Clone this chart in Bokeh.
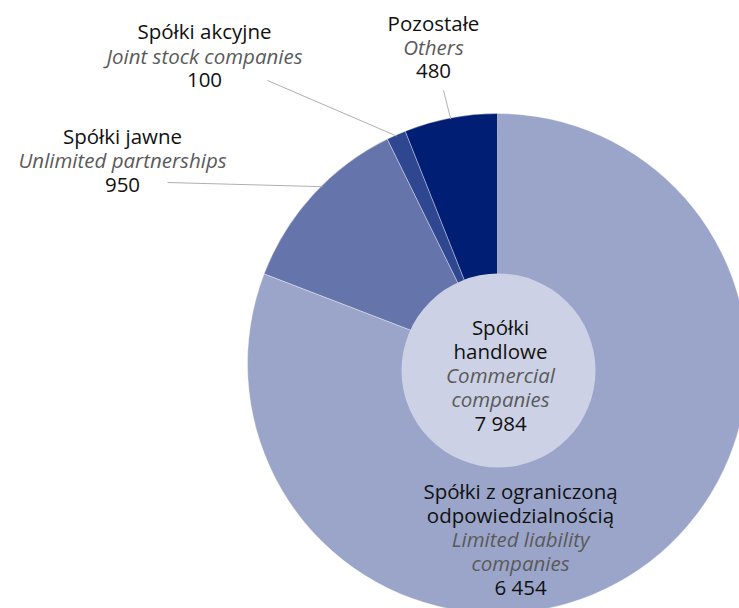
import numpy as np
from bokeh.plotting import figure
from bokeh.models import Range1d
from bokeh.core.properties import value
from bokeh.embed import file_html
from bokeh.resources import INLINE

# ---- data ----
categories_pl = ["Spółki z ograniczoną odpowiedzialnością", "Spółki jawne", "Spółki akcyjne", "Pozostałe"]
categories_en = ["Limited liability companies", "Unlimited partnerships", "Joint stock companies", "Others"]
counts = [6454, 950, 100, 480]
total_pl = "Spółki handlowe"
total_en = "Commercial companies"
total_value = 7984
colors = ["#9aa5c9", "#6575ab", "#2e4790", "#001e73"]

FONT = value("Open Sans")
FS = "20.5px"
BLACK = "#111111"
GREY = "#5a5a5a"

def fmt(v):
    return f"{v:,}".replace(",", " ")

W, H = 739, 608
p = figure(width=W, height=H, output_backend="svg", toolbar_location=None,
           x_range=Range1d(0, W), y_range=Range1d(0, H), min_border=0)
p.axis.visible = False
p.grid.visible = False
p.outline_line_color = None
p.background_fill_color = "white"

def Y(page_y):
    return H - page_y

# pie geometry (page px)
cx, cy, R = 497, 363, 250
icx, icy, IR = 498, 370, 97

vals = np.array(counts, dtype=float)
frac = vals / vals.sum()
cw_end = np.cumsum(frac) * 2 * np.pi
cw_start = cw_end - frac * 2 * np.pi
start = np.pi / 2 - cw_start
end = np.pi / 2 - cw_end

p.wedge(x=[cx] * 4, y=[Y(cy)] * 4, radius=R, start_angle=list(start), end_angle=list(end),
        direction="clock", fill_color=colors, line_color="white", line_width=0.6, line_alpha=0.6)
p.scatter(x=[icx], y=[Y(icy)], size=2 * IR, fill_color="#ccd1e5", line_color=None)

# leader lines
mid = np.pi / 2 - (cw_start + cw_end) / 2
leaders = {1: (167, 182), 2: (267, 80), 3: (443, 90)}
for i, (lx, ly) in leaders.items():
    a = mid[i] - (0.05 if i == 1 else 0.0)
    ex = cx + R * np.cos(a) * 0.995
    ey = Y(cy) + R * np.sin(a) * 0.995
    p.line(x=[lx, ex], y=[Y(ly), ey], line_color="#b0b0b0", line_width=1)

def label(x, ys, lines, styles):
    for y, t, s in zip(ys, lines, styles):
        p.text(x=[x], y=[Y(y)], text=[t], text_font=FONT, text_font_size=FS,
               text_align="center", text_baseline="middle",
               text_font_style=("italic" if s else "normal"),
               text_color=(GREY if s else BLACK))

# akcyjne
label(204, [30, 55, 79], [categories_pl[2], categories_en[2], fmt(counts[2])], [0, 1, 0])
# jawne
label(122, [135, 159, 184], [categories_pl[1], categories_en[1], fmt(counts[1])], [0, 1, 0])
# pozostale
label(433, [22, 46, 70], [categories_pl[3], categories_en[3], fmt(counts[3])], [0, 1, 0])
# center
label(500, [326, 350, 374, 398, 422],
      ["Spółki", "handlowe", "Commercial", "companies", fmt(total_value)], [0, 0, 1, 1, 0])
# LLC
label(520, [490, 514, 538, 562, 586],
      ["Spółki z ograniczoną", "odpowiedzialnością", "Limited liability", "companies", fmt(counts[0])],
      [0, 0, 1, 1, 0])

open("out.html", "w").write(file_html(p, INLINE))
